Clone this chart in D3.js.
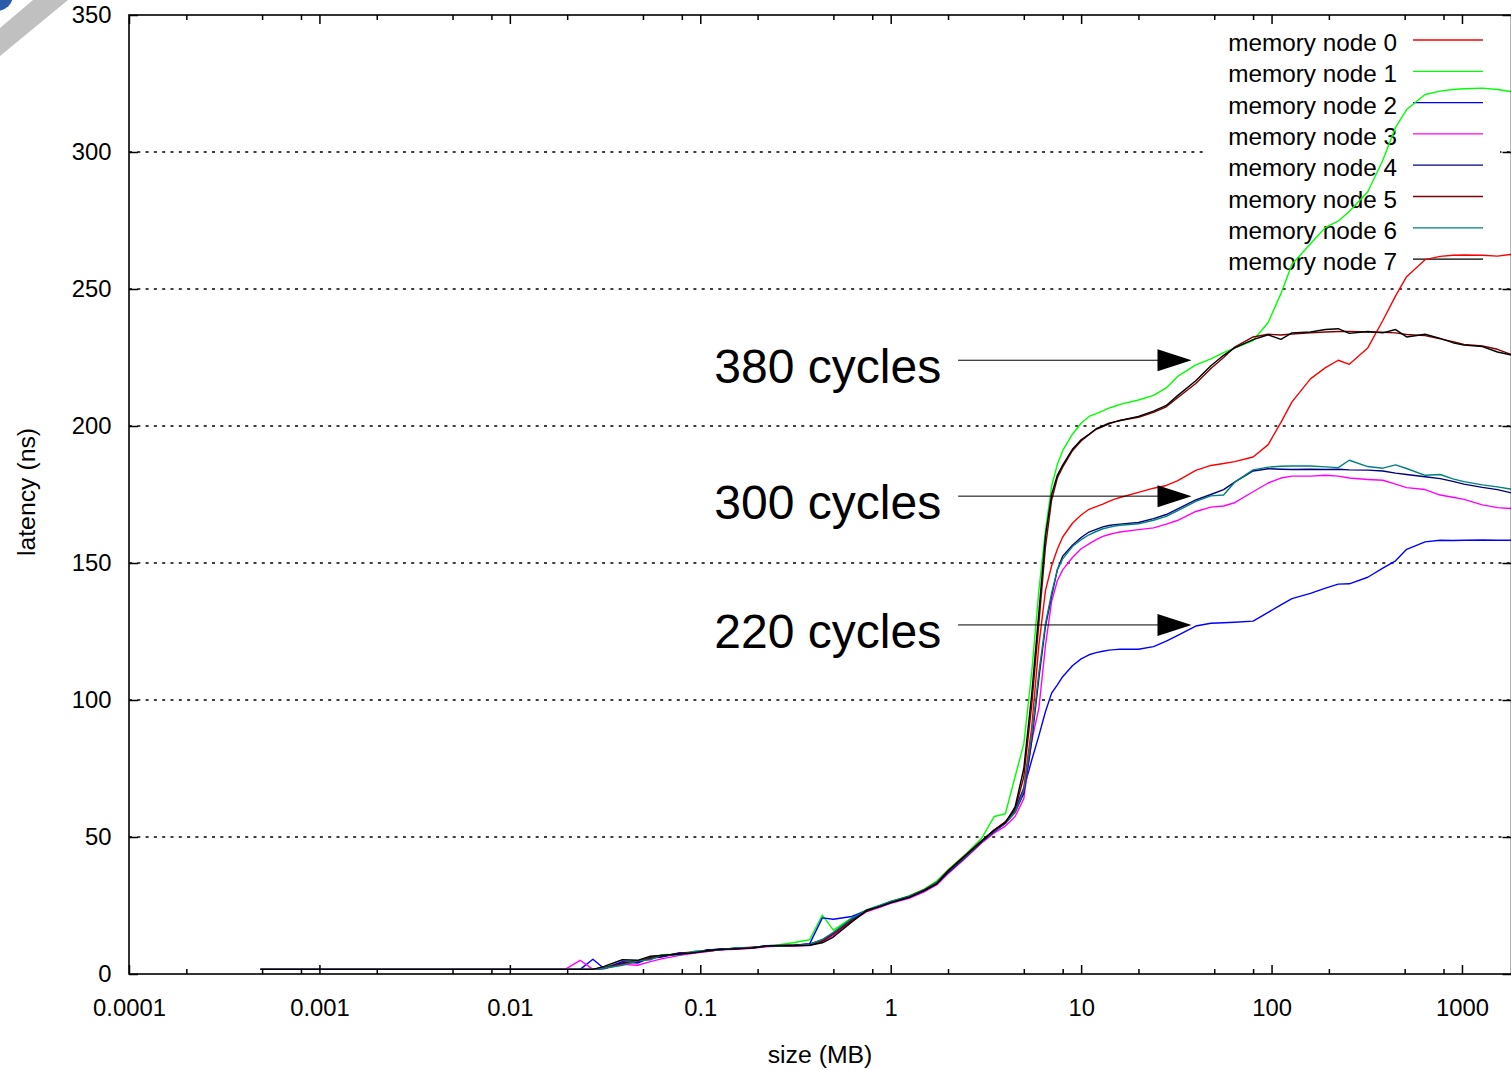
<!DOCTYPE html>
<html>
<head>
<meta charset="utf-8">
<script src="https://cdn.jsdelivr.net/npm/d3@7"></script>
<style>
  body { margin: 0; background: #fff; }
  text { font-family: "Liberation Sans", Arial, sans-serif; fill: #000; }
</style>
</head>
<body>
<div id="chart"></div>
<script>
const width = 1511;
const height = 1070;

// sizes in MB (lat_mem_rd style steps)
const sizes = [0.00049, 0.00098, 0.00195, 0.0039, 0.0078,
  0.0156, 0.0195, 0.0234, 0.0273, 0.03125, 0.039, 0.0469, 0.0547,
  0.0625, 0.078, 0.094, 0.109, 0.125, 0.156, 0.1875, 0.219,
  0.25, 0.3125, 0.375, 0.4375, 0.5, 0.625, 0.75, 0.875,
  1, 1.25, 1.5, 1.75, 2, 2.5, 3, 3.5,
  4, 4.5, 5, 5.5, 6, 6.5, 7, 7.5,
  8, 9, 10, 11, 12, 13, 14, 15,
  16, 20, 24, 28, 32, 40, 48, 56, 64, 80, 96, 112,
  128, 160, 192, 224, 256, 320, 384, 448, 512, 640, 768, 896,
  1024, 1280, 1536, 1792, 2048];

// latency (ns) per memory node
const node0 = [1.7, 1.7, 1.7, 1.7, 1.7, 1.7, 1.7, 1.7, 1.7, 2.4, 3.6, 4.4, 5.8,
  6.5, 7.6, 8.1, 8.4, 8.7, 9.5, 9.8, 10.0, 10.4, 10.6, 10.9, 12.5, 15, 19.8, 23.2, 24.4,
  26.5, 28.2, 30.6, 33.3, 37.5, 43.5, 48.5, 52.5,
  55.5, 60, 68, 90, 120, 140, 149, 155,
  159.5, 164.5, 167.5, 169.6, 170.6, 171.5, 172.5, 173.3,
  173.9, 175.8, 177.3, 178.3, 180, 183.8, 185.6, 186.3, 187, 188.7, 193.2, 201.3,
  208.8, 217.2, 221.3, 224, 222.5, 228.5, 238.5, 247.5, 254.5, 260.7, 261.9, 262.3,
  262.4, 262.3, 262, 262.6, 262.5];
const node1 = [1.7, 1.7, 1.7, 1.7, 1.7, 1.7, 1.7, 1.7, 1.7, 2.5, 4.2, 4.8, 6.2,
  7.0, 7.2, 8.2, 8.6, 8.9, 9.4, 9.6, 10.2, 10.5, 11.5, 12.5, 21.5, 16, 20.5, 23.5, 25,
  26.5, 28.5, 31, 34, 38, 44, 49.5, 57.5,
  58.5, 72, 84, 110, 140, 162, 178, 186,
  191, 197, 201, 203.5, 204.5, 205.5, 206.5, 207.2,
  207.9, 209.5, 211.2, 213.9, 218, 222.3, 224.5, 226.8, 228.4, 231.2, 237.8, 248.3,
  259, 266.5, 272.5, 274.8, 278.3, 285.5, 297, 309, 315.5, 321, 322.2, 322.8,
  323.1, 323.3, 322.8, 322.1, 322];
const node2 = [1.7, 1.7, 1.7, 1.7, 1.7, 1.7, 1.7, 1.7, 5.4, 2.0, 4.5, 4.0, 6.0,
  6.2, 7.8, 7.7, 8.9, 9.0, 9.4, 9.5, 10.3, 10.4, 10.5, 11.0, 20.5, 20, 21, 23.2, 24.5,
  26.2, 28, 30.4, 33, 37, 43, 48, 52,
  55, 60, 67.5, 78, 87, 95.8, 102.5, 105.5,
  108.5, 112.5, 115, 116.5, 117.3, 117.8, 118.2, 118.4,
  118.5, 118.5, 119.5, 121.5, 123.5, 127, 128, 128.2, 128.4, 128.8, 132, 134.7,
  137, 138.9, 140.8, 142.3, 142.4, 144.8, 148.1, 150.8, 155, 157.7, 158.3, 158.2,
  158.3, 158.4, 158.3, 158.3, 158.3];
const node3 = [1.7, 1.7, 1.7, 1.7, 1.7, 1.7, 1.7, 5.0, 1.7, 2.0, 3.5, 3.2, 4.5,
  5.5, 6.8, 7.6, 8.2, 8.8, 9.0, 9.4, 9.9, 10.1, 10.2, 10.4, 11.8, 14, 19.2, 22.8, 24.3,
  25.8, 27.6, 30, 32.6, 36.6, 42.6, 47.8, 51.5,
  54, 57.5, 64, 85, 97, 120, 136, 143.5,
  147.5, 152, 155.2, 157, 158.5, 159.7, 160.4, 160.9,
  161.3, 162.2, 162.8, 164.2, 165.5, 168.8, 170.4, 170.8, 172, 176, 179.2, 181,
  181.7, 181.7, 182, 181.7, 181, 180.5, 180.2, 178.8, 177.5, 176.8, 174.8, 174,
  173.2, 171.2, 170.2, 169.9, 169.7];
const node4 = [1.7, 1.7, 1.7, 1.7, 1.7, 1.7, 1.7, 1.7, 1.7, 2.0, 4.0, 4.5, 5.5,
  6.4, 7.4, 7.9, 8.7, 9.1, 9.3, 9.7, 10.1, 10.3, 10.5, 11.0, 12.2, 14.8, 20, 23.0, 24.8,
  26.2, 28.0, 30.3, 33.0, 37, 43, 48.2, 52,
  55, 59, 66, 85, 108, 127, 138, 147.5,
  152.5, 156.5, 159.3, 161.3, 162.3, 163.2, 163.7, 164,
  164.2, 164.8, 166.2, 167.7, 169.7, 173, 175, 176.8, 179.5, 183.6, 184.4, 184.2,
  184.1, 184.2, 184.1, 184.2, 184, 183.9, 183.6, 182.8, 182.3, 181.5, 180.8, 179.8,
  178.8, 177.6, 176.8, 175.7, 175.3];
const node5 = [1.7, 1.7, 1.7, 1.7, 1.7, 1.7, 1.7, 1.7, 1.7, 2.2, 3.8, 4.6, 6.0,
  6.6, 7.5, 8.0, 8.3, 8.8, 9.3, 9.6, 10.1, 10.2, 10.3, 10.6, 12.0, 14.5, 19.5, 23.0, 24.8,
  26.3, 28.4, 30.8, 33.5, 37.8, 43.8, 48.6, 52.6,
  55.5, 60, 72, 98, 128, 156, 173, 181,
  185, 191, 194.5, 196.8, 198.8, 199.8, 200.8, 201.5,
  202, 203.2, 205, 207, 210.2, 215.5, 221, 225, 228.8, 232.5, 233.5, 233.2,
  233.6, 234, 234.3, 234.5, 234.5, 234.3, 234.2, 234, 233.4, 233, 231.8, 230.8,
  229.8, 229.2, 228, 226.2, 225.6];
const node6 = [1.7, 1.7, 1.7, 1.7, 1.7, 1.7, 1.7, 1.7, 1.7, 2.1, 3.2, 4.8, 5.2,
  6.9, 7.0, 8.3, 8.5, 8.8, 9.6, 9.5, 10.3, 10.2, 10.4, 10.8, 12.6, 15.2, 20.3, 23.4, 25,
  26.5, 28.3, 30.6, 33.4, 37.3, 43.2, 48.4, 52.2,
  55, 59, 67, 87, 110, 128, 139, 147.5,
  151.5, 156, 158.5, 160.3, 161.5, 162.5, 163, 163.5,
  163.8, 164.3, 165.6, 167, 169, 172.5, 174.5, 174.8, 179.5, 184, 185, 185.3,
  185.4, 185.4, 185.1, 184.8, 187.5, 185.2, 184.6, 185.8, 184.5, 182, 182.3, 180.7,
  179.7, 178.5, 177.8, 177, 176.5];
const node7 = [1.7, 1.7, 1.7, 1.7, 1.7, 1.7, 1.7, 1.7, 1.7, 2.8, 5.2, 5.0, 6.5,
  6.8, 7.3, 7.8, 8.5, 8.9, 9.2, 9.5, 10.2, 10.3, 10.4, 10.5, 11.4, 13.5, 19, 23.3, 24.6,
  26, 28, 30.5, 33, 37.5, 43.5, 48.5, 52.5,
  55.2, 61, 75, 102, 132, 160, 175, 182,
  185.7, 191.5, 195, 197, 199, 200, 201, 201.5,
  202, 203.5, 205.4, 207.5, 211, 216.5, 222, 225.8, 228.5, 231.5, 233.3, 231.6,
  234, 234.3, 235.2, 235.5, 233.8, 234.5, 234, 235.2, 232.5, 233.5, 232, 230.4,
  229.5, 229, 227, 226, 225.5];

const seriesNames = ["memory node 0", "memory node 1", "memory node 2", "memory node 3",
  "memory node 4", "memory node 5", "memory node 6", "memory node 7"];
const seriesValues = [node0, node1, node2, node3, node4, node5, node6, node7];
const seriesColors = ["#ff0000", "#00ff00", "#0000ff", "#ff00ff",
  "#000080", "#800000", "#008080", "#000000"];

const xTicks = [0.0001, 0.001, 0.01, 0.1, 1, 10, 100, 1000];
const xTickLabels = ["0.0001", "0.001", "0.01", "0.1", "1", "10", "100", "1000"];
const xMinorTicks = [0.0002, 0.0005, 0.0008, 0.002, 0.005, 0.008, 0.02, 0.05, 0.08,
  0.2, 0.5, 0.8, 2, 5, 8, 20, 50, 80, 200, 500, 800];
const yTicks = [0, 50, 100, 150, 200, 250, 300, 350];

// annotations: label, arrow height (ns)
const annotLabels = ["380 cycles", "300 cycles", "220 cycles"];
const annotY = [224, 174.4, 127.4];
const arrowFromX = 2.26;
const arrowToX = 38;
const labelEndX = 1.84;

const svg = d3.select("#chart").append("svg")
    .attr("width", width)
    .attr("height", height);

// corner ribbon
svg.append("path")
    .attr("d", "M33,0L68,0L0,56L0,28Z")
    .attr("fill", "#c0c0c0");
svg.append("circle")
    .attr("cx", -3).attr("cy", -5).attr("r", 16)
    .attr("fill", "#2a5cab");

// scales
const x = d3.scaleLog().domain([0.0001, 1820]).range([129, 1511.5]);
const y = d3.scaleLinear().domain([0, 350]).range([974, 15]);
const [x0, x1] = x.range();
const [yB, yT] = y.range();

// dotted grid
svg.append("g")
    .selectAll("line")
    .data(yTicks.filter(d => d > 0 && d < 350))
    .join("line")
    .attr("x1", x0).attr("x2", x1)
    .attr("y1", d => y(d)).attr("y2", d => y(d))
    .attr("stroke", "#000")
    .attr("stroke-width", 1.5)
    .attr("stroke-dasharray", "3,5.3");

// legend box (opaque)
svg.append("rect")
    .attr("x", 1206).attr("y", 25)
    .attr("width", 294).attr("height", 252)
    .attr("fill", "#fff");

const legend = svg.append("g");
seriesNames.forEach((name, i) => {
    const ly = 40 + i * 31.3;
    legend.append("text")
        .attr("x", 1397).attr("y", ly + 11)
        .attr("text-anchor", "end")
        .style("font-size", "24.3px")
        .text(name);
    legend.append("line")
        .attr("x1", 1413).attr("x2", 1483)
        .attr("y1", ly).attr("y2", ly)
        .attr("stroke", seriesColors[i])
        .attr("stroke-width", 1.3);
});

// data lines
svg.append("clipPath").attr("id", "plot-clip")
    .append("rect")
    .attr("x", x0).attr("y", yT)
    .attr("width", x1 - x0).attr("height", yB - yT);

const line = d3.line()
    .x((d, i) => x(sizes[i]))
    .y(d => y(d));

svg.append("g")
    .attr("clip-path", "url(#plot-clip)")
    .selectAll("path")
    .data(seriesValues)
    .join("path")
    .attr("d", d => line(d))
    .attr("fill", "none")
    .attr("stroke", (d, i) => seriesColors[i])
    .attr("stroke-width", 1.4)
    .attr("stroke-linejoin", "round");

// annotations with arrows
annotLabels.forEach((label, i) => {
    const ay = y(annotY[i]);
    const xa = x(arrowFromX);
    const xb = x(arrowToX);
    svg.append("line")
        .attr("x1", xa).attr("x2", xb - 20)
        .attr("y1", ay).attr("y2", ay)
        .attr("stroke", "#000")
        .attr("stroke-width", 1);
    svg.append("path")
        .attr("d", `M${xb},${ay}L${xb - 34},${ay - 11}L${xb - 34},${ay + 11}Z`)
        .attr("fill", "#000");
    svg.append("text")
        .attr("x", x(labelEndX)).attr("y", ay + 22.6)
        .attr("text-anchor", "end")
        .style("font-size", "48px")
        .text(label);
});

// axes
const xAxis = svg.append("g")
    .attr("transform", `translate(0,${yB})`)
    .call(d3.axisBottom(x).tickValues(xTicks)
        .tickFormat((d, i) => xTickLabels[i])
        .tickSizeInner(-9).tickSizeOuter(0).tickPadding(25.5));
xAxis.select(".domain").remove();
xAxis.selectAll("text").style("font-size", "23.8px");

svg.append("g")
    .attr("transform", `translate(0,${yB})`)
    .call(d3.axisBottom(x).tickValues(xMinorTicks).tickFormat("")
        .tickSizeInner(-5).tickSizeOuter(0))
    .select(".domain").remove();

svg.append("g")
    .attr("transform", `translate(0,${yT})`)
    .call(d3.axisTop(x).tickValues(xTicks).tickFormat("")
        .tickSizeInner(-9).tickSizeOuter(0))
    .select(".domain").remove();

svg.append("g")
    .attr("transform", `translate(0,${yT})`)
    .call(d3.axisTop(x).tickValues(xMinorTicks).tickFormat("")
        .tickSizeInner(-5).tickSizeOuter(0))
    .select(".domain").remove();

const yAxis = svg.append("g")
    .attr("transform", `translate(${x0},0)`)
    .call(d3.axisLeft(y).tickValues(yTicks)
        .tickSizeInner(-9).tickSizeOuter(0).tickPadding(17.5));
yAxis.select(".domain").remove();
yAxis.selectAll("text").style("font-size", "23.8px");

svg.append("g")
    .attr("transform", `translate(${x1},0)`)
    .call(d3.axisRight(y).tickValues(yTicks).tickFormat("")
        .tickSizeInner(-9).tickSizeOuter(0))
    .select(".domain").remove();

svg.selectAll(".tick line").attr("stroke", "#000").attr("stroke-width", 1.5);

// border
svg.append("rect")
    .attr("x", x0).attr("y", yT)
    .attr("width", x1 - x0).attr("height", yB - yT)
    .attr("fill", "none")
    .attr("stroke", "#000")
    .attr("stroke-width", 1.6);

// axis titles
svg.append("text")
    .attr("transform", "translate(35,492) rotate(-90)")
    .attr("text-anchor", "middle")
    .style("font-size", "24.8px")
    .text("latency (ns)");

svg.append("text")
    .attr("x", 820).attr("y", 1063)
    .attr("text-anchor", "middle")
    .style("font-size", "24.8px")
    .text("size (MB)");
</script>
</body>
</html>
